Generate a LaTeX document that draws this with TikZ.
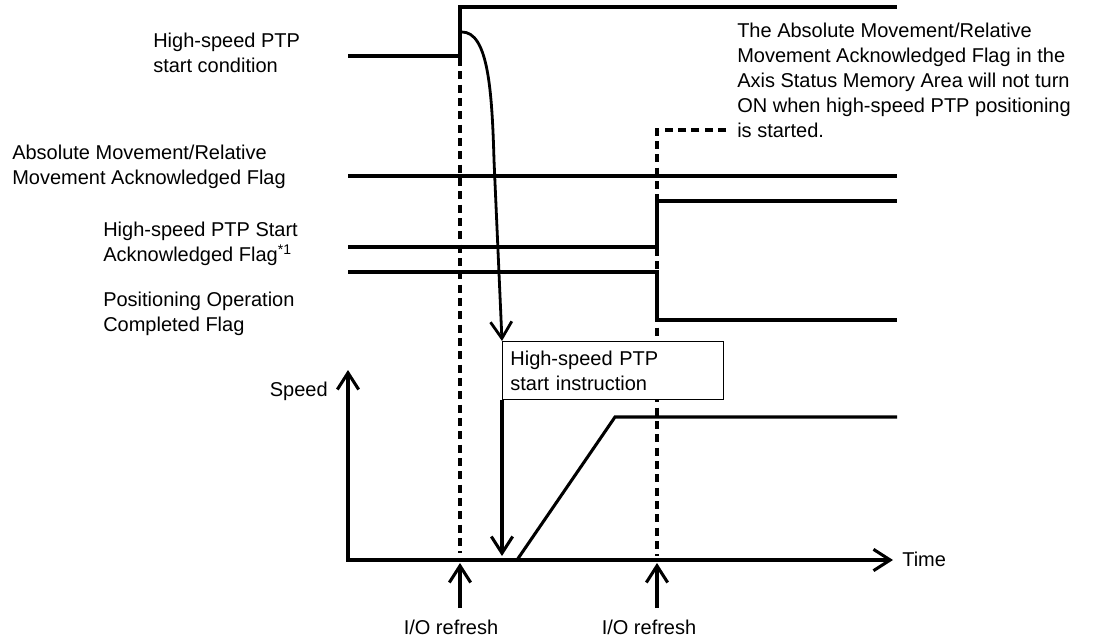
\documentclass[tikz,border=0pt]{standalone}
\usepackage{fontspec}
\setmainfont{Liberation Sans}
\usetikzlibrary{arrows.meta}

\begin{document}
\begin{tikzpicture}[
    x=0.75pt, y=-0.75pt,
    >={Straight Barb[length=12.5pt,width=16pt]},
    every node/.style={font=\fontsize{15}{18.75}\selectfont, inner sep=0pt},
    signal/.style={line width=2.3pt},
    flow/.style={line width=2.1pt},
    refline/.style={line width=2.6pt, dash pattern=on 6pt off 4pt},
    lbl/.style={align=left, anchor=north west},
]

\def\xL{348}  % left end of the signal lines
\def\xR{897}  % right end of the signal lines
\def\xA{460}  % first I/O refresh
\def\xB{657}  % second I/O refresh

\useasboundingbox (0,0) rectangle (1097,640);

% ============================================================
% SIGNAL LABELS
% ============================================================
\node[lbl] (startcond) at (153,33) {High-speed PTP\\start condition};
\node[lbl] (absflag) at (12,145) {Absolute Movement/Relative\\Movement Acknowledged Flag};
\node[lbl] (ackflag) at (103,222) {High-speed PTP Start\\Acknowledged Flag\textsuperscript{*1}};
\node[lbl] (posflag) at (103,292) {Positioning Operation\\Completed Flag};
\node[lbl] (note) at (737,23) {The Absolute Movement/Relative\\
    Movement Acknowledged Flag in the\\
    Axis Status Memory Area will not turn\\
    ON when high-speed PTP positioning\\
    is started.};

% ============================================================
% SIGNALS
% ============================================================
\draw[signal] (\xL,56) -- (\xA,56) -- (\xA,7) -- (\xR,7);
\draw[signal] (\xL,176) -- (\xR,176);
\draw[signal] (\xL,247) -- (\xB,247) -- (\xB,201) -- (\xR,201);
\draw[signal] (\xL,272) -- (\xB,272) -- (\xB,320) -- (\xR,320);

% I/O refresh timing (dashed)
\draw[refline] (\xA,58) -- (\xA,553);
\draw[refline] (726,130) -- (\xB,130) -- (\xB,556);

% ============================================================
% INSTRUCTION
% ============================================================
\node[draw, line width=0.8pt, fill=white, anchor=north west,
      minimum width=165.75pt, minimum height=43.5pt,
      text width=154pt, align=left] (cmdbox) at (502,341)
    {High-speed PTP\\start instruction};

\coordinate (trig) at (462,32);
\draw[flow,->] (trig) .. controls (488,32) and (492,90) .. (494,160)
    -- (cmdbox.north west);
\draw[signal,->] (cmdbox.south west) -- (502,556);

% ============================================================
% SPEED PROFILE
% ============================================================
\coordinate (origin) at (\xL,560);
\draw[signal,<->] (\xL,370) -- (origin) -- (893,560);
\node[anchor=north east] (speed) at (328,382) {Speed};
\node[anchor=north west] (time) at (902,552) {Time};

\draw[signal] (517,560) -- (615,417) -- (\xR,417);

% I/O refresh marks
\node[anchor=north] (refA) at (451,620) {I/O refresh};
\node[anchor=north] (refB) at (649,620) {I/O refresh};
\draw[signal,->] (\xA,608) -- (\xA,563);
\draw[signal,->] (\xB,608) -- (\xB,563);

\end{tikzpicture}
\end{document}
